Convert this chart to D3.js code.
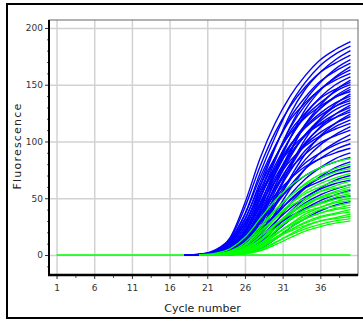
<!DOCTYPE html>
<html>
<head>
<meta charset="utf-8">
<script src="https://cdn.jsdelivr.net/npm/d3@7"></script>
<style>
  body { margin: 0; background: #fff; }
  text { font-family: "DejaVu Sans", sans-serif; }
</style>
</head>
<body>
<script>
// amplification curves, fluorescence read at every second cycle
const cycles = [18, 20, 22, 24, 26, 28, 30, 32, 34, 36, 38, 40];

const blueCurves = [
  [0, 0.8, 4.4, 15, 46, 85, 116, 140, 158, 172, 181, 188],
  [0, 0.4, 2.9, 12, 36, 72, 104, 132, 152, 167, 177, 184],
  [0, 0.2, 1.8, 8.3, 26, 60, 94, 124, 146, 161, 172, 180],
  [0, 0.7, 3.9, 14, 42, 78, 108, 131, 148, 161, 169, 176],
  [0, 0.1, 1.2, 6.0, 19, 49, 83, 113, 136, 152, 164, 172],
  [0, 0.3, 2.7, 10.6, 31, 64, 95, 121, 139, 153, 162, 169],
  [0, 0, 0.7, 3.8, 14, 39, 73, 103, 128, 145, 157, 166],
  [0, 0.2, 1.6, 7.5, 23, 54, 85, 112, 132, 146, 156, 163],
  [0, 0.6, 3.5, 13, 36, 68, 96, 119, 134, 146, 154, 160],
  [0, 0.1, 1.1, 5.5, 18, 44, 76, 103, 124, 139, 150, 157],
  [0, 0, 0.5, 2.6, 10, 30, 61, 90, 115, 132, 145, 154],
  [0, 0.3, 2.4, 9.6, 28, 57, 85, 109, 125, 138, 146, 152],
  [0, 0.2, 1.5, 6.9, 21, 50, 79, 103, 122, 134, 144, 150],
  [0, 0, 0.6, 3.4, 12, 35, 65, 92, 114, 129, 140, 148],
  [0, 0.1, 1.0, 5.1, 16, 41, 71, 96, 115, 129, 139, 146],
  [0, 0.6, 3.2, 11.5, 32, 61, 86, 107, 121, 131, 139, 144],
  [0, 0, 0.1, 1.6, 6.8, 21, 49, 78, 102, 120, 133, 142],
  [0, 0.1, 1.4, 6.4, 20, 46, 73, 96, 113, 125, 134, 140],
  [0, 0, 0.6, 3.2, 11.5, 32, 61, 86, 106, 120, 131, 138],
  [0, 0.3, 2.2, 8.6, 25, 51, 76, 97, 112, 123, 131, 136],
  [0, 0.1, 0.9, 4.7, 15, 38, 65, 88, 106, 118, 128, 134],
  [0, 0, 0.4, 2.2, 8.7, 25, 52, 77, 98, 113, 124, 132],
  [0, 0.1, 1.3, 6.0, 19, 43, 68, 89, 105, 116, 124, 130],
  [0, 0, 0.5, 2.9, 10.6, 30, 56, 80, 99, 112, 121, 128],
  [0, 0.5, 2.8, 10.1, 28, 54, 76, 93, 106, 115, 121, 126],
  [0, 0, 0.1, 1.4, 6.0, 18, 43, 68, 89, 105, 116, 124],
  [0, 0.1, 0.9, 4.3, 14, 35, 59, 80, 97, 108, 116, 122],
  [0, 0, 0.5, 2.7, 9.9, 28, 52, 74, 92, 104, 113, 119],
  [0, 0.2, 1.9, 7.3, 21, 44, 65, 83, 96, 105, 111, 116],
  [0, 0, 0.3, 1.9, 7.5, 22, 45, 66, 84, 97, 106, 113],
  [0, 0.1, 1.1, 5.1, 16, 36, 58, 76, 89, 99, 105, 110],
  [0, 0, 0.1, 1.2, 5.1, 16, 37, 58, 76, 90, 99, 106],
  [0, 0.1, 0.7, 3.6, 11.5, 29, 49, 67, 81, 90, 97, 102],
  [0, 0, 0.4, 2.3, 8.1, 23, 43, 61, 76, 85, 93, 98],
  [0, 0.2, 1.5, 5.9, 17, 36, 53, 67, 78, 85, 90, 94],
  [0, 0, 0.3, 1.5, 5.9, 17, 35, 53, 67, 77, 85, 90],
  [0, 0.1, 0.9, 4.0, 12.3, 28, 45, 59, 70, 77, 82, 86],
  [0, 0, 0.1, 0.9, 3.9, 12.2, 28, 45, 59, 69, 77, 82],
  [0, 0, 0.3, 1.8, 6.5, 18, 34, 49, 60, 68, 74, 78],
  [0, 0, 0.5, 2.6, 8.4, 21, 36, 48, 59, 65, 71, 74],
  [0, 0, 0.1, 0.8, 3.4, 10.4, 24, 38, 50, 59, 66, 70],
  [0, 0, 0.3, 1.5, 5.5, 15, 29, 41, 51, 58, 63, 66],
  [0, 0, 0.2, 1.1, 4.1, 11.9, 24, 36, 46, 53, 58, 62],
  [0, 0, 0.1, 0.6, 2.7, 8.5, 20, 31, 41, 48, 53, 57],
  [0, 0, 0.4, 1.8, 5.9, 14.7, 25, 34, 41, 46, 50, 52],
  [0, 0, 0, 0.4, 1.7, 5.6, 13.9, 24, 32, 39, 44, 47]
];

// green curves are read from cycle 20 on
const greenCycles = [20, 22, 24, 26, 28, 30, 32, 34, 36, 38, 40];

const greenCurves = [
  [0.2, 1.4, 5.4, 15.6, 32, 48, 61, 70, 77, 82, 85],
  [0, 0.6, 2.8, 9.0, 23, 39, 52, 63, 71, 76, 80],
  [0.1, 0.8, 3.5, 10.9, 25, 40, 52, 62, 68, 73, 76],
  [0, 0.3, 1.7, 6.0, 16.8, 32, 45, 56, 63, 68, 72],
  [0, 0.5, 2.4, 7.7, 19, 33, 45, 54, 60, 65, 68],
  [0, 0.2, 1.1, 4.3, 12.5, 26, 38, 48, 56, 61, 65],
  [0.1, 0.6, 2.9, 8.9, 21, 32, 43, 50, 56, 59, 62],
  [0, 0.1, 0.7, 2.9, 8.9, 21, 33, 43, 51, 56, 60],
  [0, 0.2, 1.3, 4.8, 13.6, 26, 36, 45, 51, 55, 58],
  [0, 0.4, 2.0, 6.3, 15.8, 27, 37, 44, 50, 53, 56],
  [0, 0.2, 0.9, 3.6, 10.4, 21, 32, 40, 46, 51, 54],
  [0, 0.2, 1.2, 4.3, 12.2, 23, 32, 40, 45, 49, 52],
  [0, 0.1, 0.6, 2.4, 7.5, 17.3, 27, 36, 42, 47, 50],
  [0, 0.3, 1.7, 5.4, 13.6, 23, 31, 38, 42, 46, 48],
  [0, 0.1, 0.8, 3.0, 8.8, 18.1, 27, 34, 40, 43, 46],
  [0, 0, 0.5, 2.1, 6.6, 15.2, 24, 32, 37, 41, 44],
  [0, 0.2, 1.0, 3.5, 9.8, 18.5, 26, 32, 37, 40, 42],
  [0, 0, 0.4, 1.9, 6.0, 13.8, 22, 29, 34, 37, 40],
  [0, 0.1, 0.6, 2.5, 7.3, 15.0, 22, 28, 33, 36, 38],
  [0, 0, 0.3, 1.3, 4.3, 10.7, 18.3, 25, 30, 33, 36],
  [0, 0.1, 0.8, 2.8, 8.0, 15.0, 21, 26, 30, 32, 34],
  [0, 0, 0.4, 1.5, 4.8, 11.1, 17.5, 23, 27, 30, 32],
  [0, 0, 0.2, 1.1, 3.6, 8.9, 15.2, 21, 25, 28, 30]
];

const baselineCycles = [1, 40];
const baselineValues = [0, 0];

const xTicks = [1, 6, 11, 16, 21, 26, 31, 36];
const xMinorTicks = [3.5, 8.5, 13.5, 18.5, 23.5, 28.5, 33.5, 38.5];
const yTicks = [0, 50, 100, 150, 200];
const yMinorTicks = [-10, 10, 20, 30, 40, 60, 70, 80, 90, 110, 120, 130, 140, 160, 170, 180, 190];

const W = 363, H = 321;
const plot = { left: 49, right: 358, top: 20, bottom: 275 };

const svg = d3.select("body").append("svg")
  .attr("width", W)
  .attr("height", H);

// outer frame of the panel
svg.append("rect")
  .attr("x", 7).attr("y", 4)
  .attr("width", 370).attr("height", 314)
  .attr("fill", "#fff")
  .attr("stroke", "#000")
  .attr("stroke-width", 2);

const x = d3.scaleLinear().domain([0, 41]).range([plot.left, plot.right]);
const y = d3.scaleLinear().domain([-17.6, 207]).range([plot.bottom, plot.top]);

// grid
svg.append("g")
  .attr("transform", `translate(0,${plot.bottom})`)
  .call(d3.axisBottom(x).tickValues(xTicks).tickSize(-(plot.bottom - plot.top)).tickFormat(""))
  .call(g => g.select(".domain").remove())
  .selectAll("line").attr("stroke", "#d2d2d2").attr("stroke-width", 1.5);

svg.append("g")
  .attr("transform", `translate(${plot.left},0)`)
  .call(d3.axisLeft(y).tickValues(yTicks).tickSize(-(plot.right - plot.left)).tickFormat(""))
  .call(g => g.select(".domain").remove())
  .selectAll("line").attr("stroke", "#d2d2d2").attr("stroke-width", 1.5);

// top / right border
svg.append("rect")
  .attr("x", plot.left).attr("y", plot.top)
  .attr("width", plot.right - plot.left).attr("height", plot.bottom - plot.top)
  .attr("fill", "none")
  .attr("stroke", "#666")
  .attr("stroke-width", 1);

const line = d3.line().curve(d3.curveMonotoneX);

svg.append("path")
  .datum(baselineCycles.map((c, i) => [x(c), y(baselineValues[i])]))
  .attr("fill", "none")
  .attr("stroke", "#00ff00")
  .attr("stroke-width", 1.4)
  .attr("d", line);

svg.append("g")
  .selectAll("path")
  .data(blueCurves)
  .join("path")
  .attr("fill", "none")
  .attr("stroke", "#0000ff")
  .attr("stroke-width", 1.4)
  .attr("d", d => line(d.map((v, i) => [x(cycles[i]), y(v)])));

svg.append("g")
  .selectAll("path")
  .data(greenCurves)
  .join("path")
  .attr("fill", "none")
  .attr("stroke", "#00ff00")
  .attr("stroke-width", 1.3)
  .attr("d", d => line(d.map((v, i) => [x(greenCycles[i]), y(v)])));

// axes
const tickColor = "#333";

const yAxis = svg.append("g")
  .attr("transform", `translate(${plot.left},0)`)
  .call(d3.axisLeft(y).tickValues(yTicks).tickSize(4).tickPadding(2));
yAxis.select(".domain").remove();
yAxis.selectAll("line").attr("stroke", tickColor);
yAxis.selectAll("text").attr("fill", tickColor).style("font-size", "9px");

svg.append("g")
  .attr("transform", `translate(${plot.left},0)`)
  .call(d3.axisLeft(y).tickValues(yMinorTicks).tickSize(2).tickFormat(""))
  .call(g => g.select(".domain").remove())
  .selectAll("line").attr("stroke", "#555");

const xAxis = svg.append("g")
  .attr("transform", `translate(0,${plot.bottom})`)
  .call(d3.axisBottom(x).tickValues(xTicks).tickSize(4).tickPadding(6));
xAxis.select(".domain").remove();
xAxis.selectAll("line").attr("stroke", tickColor);
xAxis.selectAll("text").attr("fill", tickColor).style("font-size", "9px");

svg.append("g")
  .attr("transform", `translate(0,${plot.bottom})`)
  .call(d3.axisBottom(x).tickValues(xMinorTicks).tickSize(3).tickFormat(""))
  .call(g => g.select(".domain").remove())
  .selectAll("line").attr("stroke", "#555");

// thick left and bottom axis lines
svg.append("line")
  .attr("x1", plot.left).attr("x2", plot.left)
  .attr("y1", plot.top).attr("y2", plot.bottom + 1)
  .attr("stroke", "#000").attr("stroke-width", 2);
svg.append("line")
  .attr("x1", plot.left - 1).attr("x2", plot.right)
  .attr("y1", plot.bottom).attr("y2", plot.bottom)
  .attr("stroke", "#000").attr("stroke-width", 2.5);

// titles
svg.append("text")
  .attr("x", (plot.left + plot.right) / 2 - 1)
  .attr("y", 312)
  .attr("text-anchor", "middle")
  .attr("fill", "#222")
  .style("font-size", "11px")
  .text("Cycle number");

svg.append("text")
  .attr("transform", `translate(21,146) rotate(-90)`)
  .attr("text-anchor", "middle")
  .attr("fill", "#222")
  .style("font-size", "11px")
  .style("letter-spacing", "1.2px")
  .text("Fluorescence");
</script>
</body>
</html>
